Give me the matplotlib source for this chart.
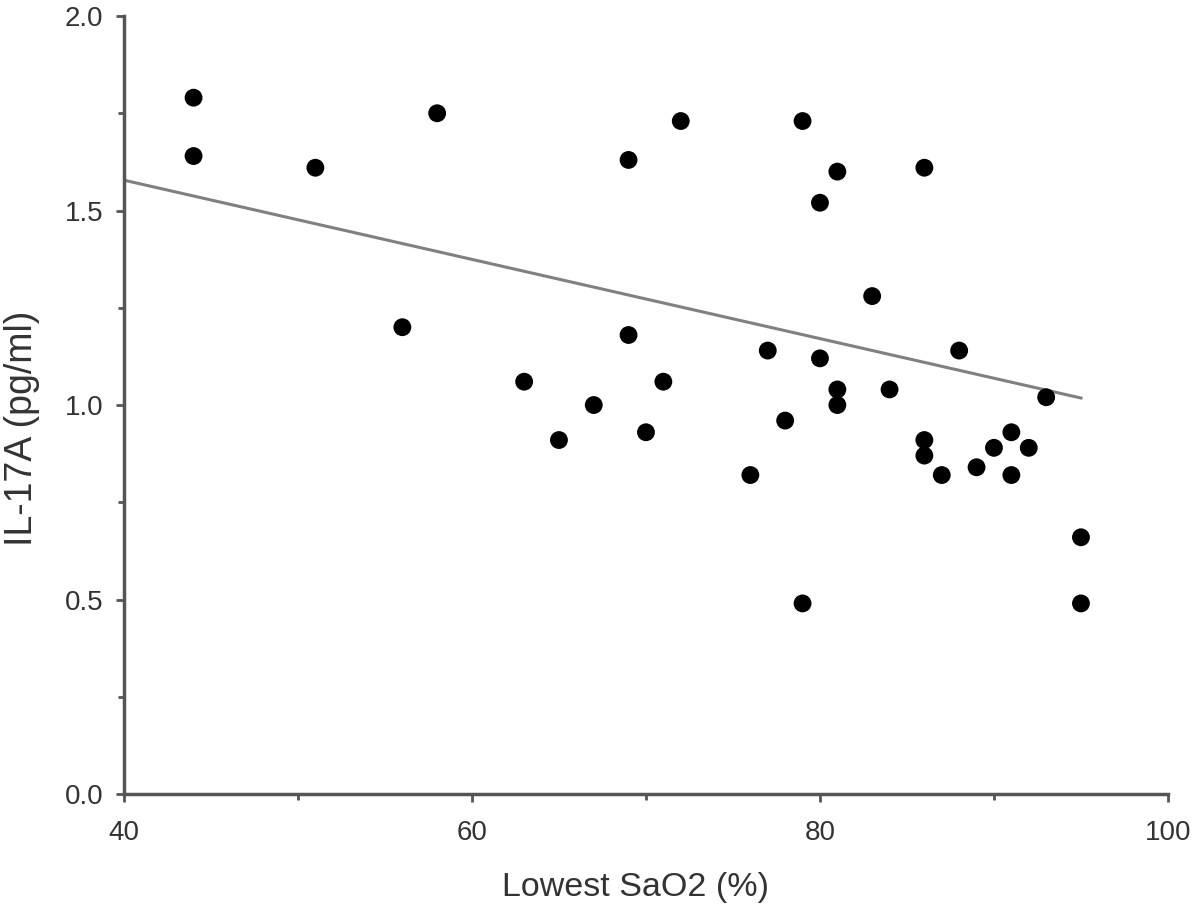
import matplotlib
matplotlib.use("Agg")
import matplotlib.pyplot as plt
from matplotlib.ticker import MultipleLocator, FormatStrFormatter

plt.rcParams["font.family"] = ["Liberation Sans", "DejaVu Sans"]

# data
sao2 = [44, 44, 51, 58, 56, 63, 65, 67, 69, 69, 70, 71, 72, 76, 77, 78, 79, 79,
        80, 80, 81, 81, 81, 83, 84, 86, 86, 86, 87, 88, 89, 90, 91, 91, 92, 93,
        95, 95]
il17a = [1.79, 1.64, 1.61, 1.75, 1.20, 1.06, 0.91, 1.00, 1.63, 1.18, 0.93, 1.06,
         1.73, 0.82, 1.14, 0.96, 1.73, 0.49, 1.52, 1.12, 1.60, 1.04, 1.00, 1.28,
         1.04, 1.61, 0.91, 0.87, 0.82, 1.14, 0.84, 0.89, 0.93, 0.82, 0.89, 1.02,
         0.66, 0.49]
fit_x = [40, 95]
fit_y = [1.578, 1.018]

fig = plt.figure(figsize=(12, 9.15), dpi=100)
ax = fig.add_axes([0.1033, 0.1322, 0.87, 0.8503])

ax.plot(fit_x, fit_y, color="#808080", lw=2.2, zorder=2)
ax.scatter(sao2, il17a, s=165, color="black", edgecolors="none", zorder=3)

ax.set_xlim(40, 100)
ax.set_ylim(0, 2.0)
ax.xaxis.set_major_locator(MultipleLocator(20))
ax.xaxis.set_minor_locator(MultipleLocator(10))
ax.yaxis.set_major_locator(MultipleLocator(0.5))
ax.yaxis.set_minor_locator(MultipleLocator(0.25))
ax.yaxis.set_major_formatter(FormatStrFormatter("%.1f"))

for side in ("top", "right"):
    ax.spines[side].set_visible(False)
for side in ("left", "bottom"):
    ax.spines[side].set_color("#555555")
    ax.spines[side].set_linewidth(2.5)

ax.tick_params(which="major", length=6, width=2, color="#555555",
               labelsize=20, labelcolor="#333333")
ax.tick_params(which="minor", length=4, width=2, color="#555555")
ax.tick_params(axis="x", which="major", pad=13)
ax.tick_params(axis="y", which="major", pad=9)

ax.set_xlabel("Lowest SaO2 (%)", fontsize=24.5, color="#333333")
ax.set_ylabel("IL-17A (pg/ml)", fontsize=27, color="#333333")
ax.xaxis.set_label_coords(0.49, -0.1)
ax.yaxis.set_label_coords(-0.08, 0.47)

fig.savefig("out.png", dpi=100)
